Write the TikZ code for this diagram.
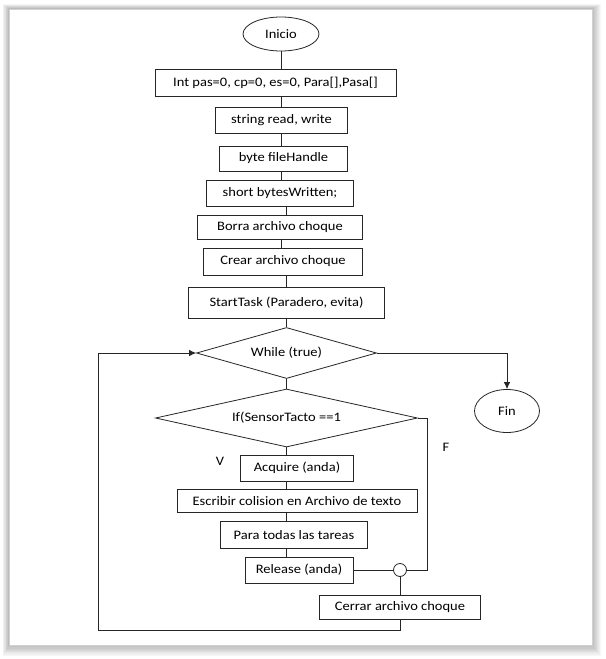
\documentclass[tikz,border=0pt]{standalone}
\usepackage{fontspec}
\setmainfont{Carlito}[FakeStretch=1.12]
\usetikzlibrary{shapes.geometric,arrows.meta,calc}
\begin{document}
\begin{tikzpicture}[x=1bp,y=-1bp,
  every node/.style={font=\fontsize{13}{15}\selectfont, text=black},
  sz/.style 2 args={minimum width=#1bp, minimum height=#2bp},
  box/.style={draw=black!85, line width=0.8bp, rectangle, inner sep=0pt},
  term/.style={draw=black!85, ellipse, line width=0.8bp, inner sep=0pt},
  dec/.style={draw=black!85, diamond, line width=0.8bp, inner sep=0pt, aspect=3},
  link/.style={draw=black!85, line width=0.8bp},
  arr/.style={link, -{Latex[length=7bp,width=6.5bp]}},
  lbl/.style={inner sep=0pt}]
% page and window frame
\useasboundingbox (0,0) rectangle (606,659);
\fill[white] (0,0) rectangle (606,659);
\foreach \i in {1,...,9}
  \fill[black,opacity=0.03] (9-0.7*\i,9-0.5*\i) rectangle (592+\i,645+1.2*\i);
\fill[white] (9,9) rectangle (592,645);
\draw[black!18,line width=0.6bp] (9,9) rectangle (592,645);
% nodes
\node[term, sz={76}{34}] (ini) at (281,34) {Inicio};
\node[box, sz={241}{27}] (b1) at (275.5,82.5) {Int pas=0, cp=0, es=0, Para[],Pasa[]};
\node[box, sz={132}{26}] (b2) at (281.5,120) {string read, write};
\node[box, sz={128}{25}] (b3) at (283.5,158.5) {byte fileHandle};
\node[box, sz={147}{26}] (b4) at (280,193) {short bytesWritten;};
\node[box, sz={165}{24}] (b5) at (280,227) {Borra archivo choque};
\node[box, sz={159}{27}] (b6) at (283,261.5) {Crear archivo choque};
\node[box, sz={196}{31}] (b7) at (286.5,303) {StartTask (Paradero, evita)};
\node[dec, sz={180}{51}] (wh) at (286.5,353) {While (true)};
\node[dec, sz={262}{58}] (if) at (286.5,418) {If(SensorTacto ==1};
\node[box, sz={113}{26}] (acq) at (297,468) {Acquire (anda)};
\node[box, sz={240}{23}] (esc) at (297,501) {Escribir colision en Archivo de texto};
\node[box, sz={147}{27}] (para) at (294,535) {Para todas las tareas};
\node[box, sz={108}{26}] (rel) at (299,570) {Release (anda)};
\node[draw=black!85, circle, line width=0.8bp, inner sep=0pt, minimum size=13bp] (con) at (400,570) {};
\node[box, sz={161}{24}] (cer) at (400,607.5) {Cerrar archivo choque};
\node[term, sz={65}{43}] (fin) at (507,411) {Fin};
\node[lbl] (v) at (220,461) {V};
\node[lbl] (f) at (446,447) {F};
\coordinate (fc) at (427,418);
\coordinate (lc) at (98,630);
% connectors
\draw[link] (ini.south) -- (ini.south |- b1.north);
\draw[link] (ini.south |- b1.south) -- (ini.south |- b2.north);
\draw[link] (ini.south |- b2.south) -- (ini.south |- b3.north);
\draw[link] (ini.south |- b3.south) -- (ini.south |- b4.north);
\draw[link] (b7.north |- b4.south) -- (b7.north |- b5.north);
\draw[link] (ini.south |- b5.south) -- (ini.south |- b6.north);
\draw[link] (b7.north |- b6.south) -- (b7.north);
\draw[link] (b7.south) -- (wh.north);
\draw[link] (wh.south) -- (if.north);
\draw[link] (if.south) -- (if.south |- acq.north);
\draw[link] (if.south |- acq.south) -- (if.south |- esc.north);
\draw[link] (if.south |- esc.south) -- (if.south |- para.north);
\draw[link] (if.south |- para.south) -- (if.south |- rel.north);
\draw[link] (rel.east) -- (con.west);
\draw[link] (if.east) -- (fc) |- (con.east);
\draw[link] (con.south) -- (con.south |- cer.north);
\draw[arr] (cer.south) |- (lc) |- (wh.west);
\draw[arr] (wh.east) -| (fin.north);
\end{tikzpicture}
\end{document}
